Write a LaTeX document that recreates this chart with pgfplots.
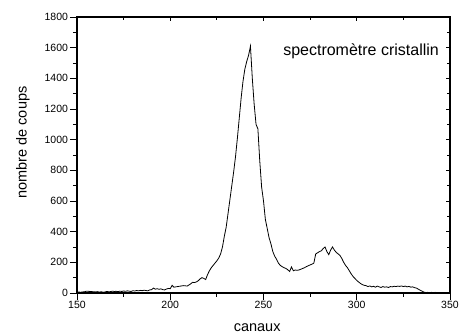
\documentclass[border=0pt]{standalone}
\usepackage{fontspec}
\setmainfont{Liberation Sans}
\usepackage{pgfplots}
\pgfplotsset{compat=1.18}
\usepackage{pgfplotstable}
\pgfplotstableread{
x y
150 5
151 6
152 5
153 7
154 8
155 12
156 11
157 10
158 9
159 8
160 7
161 9
162 6
163 8
164 5
165 7
166 10
167 8
168 9
169 12
170 10
171 11
172 9
173 12
174 10
175 13
176 11
177 14
178 12
179 10
180 15
181 13
182 16
183 14
184 17
185 15
186 18
187 16
188 14
189 20
190 22
191 32
192 25
193 28
194 24
195 27
196 22
197 20
198 26
199 30
200 28
201 50
202 38
203 40
204 42
205 44
206 46
207 48
208 47
209 45
210 52
211 60
212 70
213 68
214 72
215 80
216 92
217 100
218 95
219 88
220 120
221 145
222 165
223 180
224 195
225 210
226 228
227 255
228 300
229 370
230 430
231 520
232 610
233 700
234 790
235 890
236 1010
237 1140
238 1270
239 1380
240 1460
241 1510
242 1550
243 1610
244 1400
245 1230
246 1100
247 1070
248 860
249 690
250 600
251 480
252 420
253 360
254 320
255 270
256 240
257 220
258 195
259 180
260 172
261 165
262 160
263 152
264 140
265 170
266 145
267 150
268 148
269 150
270 155
271 160
272 165
273 172
274 178
275 183
276 188
277 195
278 255
279 262
280 270
281 275
282 290
283 300
284 270
285 250
286 280
287 300
288 280
289 265
290 255
291 245
292 225
293 200
294 180
295 165
296 145
297 125
298 108
299 95
300 82
301 72
302 62
303 55
304 50
305 48
306 42
307 46
308 40
309 44
310 38
311 45
312 40
313 36
314 42
315 38
316 40
317 36
318 42
319 40
320 44
321 42
322 45
323 43
324 46
325 42
326 45
327 40
328 43
329 38
330 40
331 35
332 32
333 25
334 18
335 12
336 6
337 3
338 4
339 3
340 4
341 3
342 4
343 3
344 2
345 3
346 2
347 2
348 1
349 2
350 2
}\spectrum
\begin{document}
\begin{tikzpicture}
\path[use as bounding box] (-77pt,-43pt) rectangle (383pt,293pt);
\begin{axis}[
  at={(0,0)}, anchor=south west,
  scale only axis, width=373pt, height=276pt,
  xmin=150, xmax=350, ymin=0, ymax=1800,
  xtick={150,200,...,350}, ytick={0,200,...,1800},
  minor x tick num=1, minor y tick num=1,
  xtick pos=bottom, ytick pos=left,
  tick align=outside,
  major tick length=7pt, minor tick length=4pt,
  every tick/.style={black, line width=0.9pt},
  axis line style={line width=1.1pt},
  /pgf/number format/assume math mode=true,
  /pgf/number format/1000 sep={},
  tick label style={font=\fontsize{10.5}{12}\selectfont},
  yticklabel style={xshift=1.5pt},
  xticklabel style={yshift=2pt},
  xlabel={canaux}, ylabel={nombre de coups},
  xlabel style={at={(axis description cs:0.483,-0.141)}, anchor=base, font=\fontsize{14.5}{16}\selectfont},
  ylabel style={at={(axis description cs:-0.135,0.545)}, anchor=base, rotate=0, font=\fontsize{14.5}{16}\selectfont},
]
\addplot[black, line width=0.8pt, mark=none] table[x=x,y=y] {\spectrum};
\node[anchor=base west, inner sep=0pt, font=\fontsize{16}{18}\selectfont] at (axis cs:260.5,1552) {spectromètre cristallin};
\end{axis}
\begin{axis}[
  at={(0,0)}, anchor=south west,
  scale only axis, width=373pt, height=276pt,
  xmin=150, xmax=350, ymin=0, ymax=1800,
  xtick={150,200,...,350}, ytick={0,200,...,1800},
  minor x tick num=1, minor y tick num=1,
  xtick pos=top, ytick pos=right,
  tick align=inside,
  major tick length=4pt, minor tick length=3pt,
  every tick/.style={black, line width=0.9pt},
  axis line style={line width=1.1pt},
  xticklabels={}, yticklabels={},
]
\end{axis}
\end{tikzpicture}
\end{document}
